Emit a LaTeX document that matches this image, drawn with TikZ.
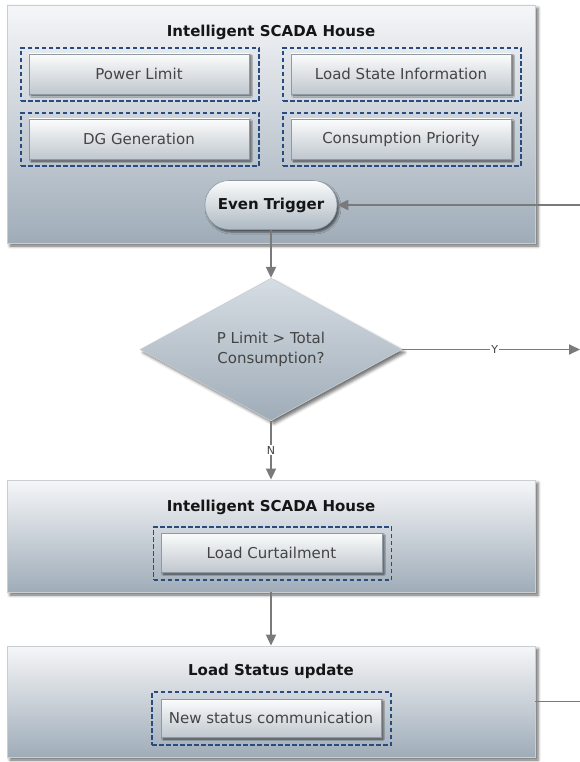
\documentclass[tikz,border=0pt]{standalone}
\usepackage{fontspec}
\setmainfont{DejaVu Sans}
\usetikzlibrary{shapes.geometric,shadows.blur,arrows.meta}

\definecolor{panelTop}{HTML}{F5F6F8}
\definecolor{panelBot}{HTML}{9FACB8}
\definecolor{panelEdge}{HTML}{C9CED3}
\definecolor{btnTop}{HTML}{FBFCFC}
\definecolor{btnBot}{HTML}{C0C7CE}
\definecolor{btnEdge}{HTML}{8F99A2}
\definecolor{decTop}{HTML}{D6DDE3}
\definecolor{decBot}{HTML}{9FACB8}
\definecolor{dashBlue}{HTML}{284B80}
\definecolor{wireGray}{HTML}{7A7A7A}
\definecolor{labelGray}{HTML}{444444}
\definecolor{titleInk}{HTML}{151515}

\begin{document}
\begin{tikzpicture}[x=1pt,y=-1pt,
  panel/.style={draw=panelEdge, line width=0.8pt, top color=panelTop,
    bottom color=panelBot, minimum width=528pt, inner sep=0pt,
    blur shadow={shadow xshift=3pt, shadow yshift=-3pt,
      shadow opacity=60, shadow blur radius=3pt}},
  title/.style={font=\fontsize{15}{18}\selectfont\bfseries, text=titleInk,
    inner sep=0pt},
  group/.style={draw=dashBlue, line width=1.7pt, dash pattern=on 4.5pt off 2.5pt,
    minimum width=238pt, minimum height=53pt, inner sep=0pt},
  btn/.style={draw=btnEdge, line width=0.6pt, top color=btnTop,
    bottom color=btnBot, minimum width=220pt, minimum height=40pt,
    inner sep=0pt, text=labelGray, font=\fontsize{15}{18}\selectfont,
    blur shadow={shadow xshift=2pt, shadow yshift=-2pt,
      shadow opacity=60, shadow blur radius=1.5pt}},
  trig/.style={draw=btnEdge, line width=0.6pt, rounded corners=24pt,
    top color=btnTop, bottom color=decBot!85!white,
    minimum width=132pt, minimum height=49pt, inner sep=0pt,
    text=titleInk, font=\fontsize{15}{18}\selectfont\bfseries,
    blur shadow={shadow xshift=2pt, shadow yshift=-2.5pt,
      shadow opacity=55, shadow blur radius=2pt}},
  dec/.style={diamond, draw=panelEdge, line width=0.6pt, top color=decTop,
    bottom color=decBot, minimum width=262pt, minimum height=135pt,
    inner sep=0pt, align=center, text=labelGray,
    font=\fontsize{15}{20}\selectfont,
    blur shadow={shadow xshift=3pt, shadow yshift=-3pt,
      shadow opacity=55, shadow blur radius=3pt}},
  conn/.style={draw=wireGray, line width=1.8pt,
    -{Triangle[length=11pt,width=10pt]}},
  link/.style={draw=wireGray, line width=1.8pt},
  tag/.style={fill=white, inner sep=1pt, text=labelGray,
    font=\fontsize{11}{12}\selectfont}
]
\useasboundingbox (0,0) rectangle (580,762);

% --- first panel: inputs of the SCADA house
\node[panel, minimum height=238pt] (house) at (271,124) {};
\node[title] (houseT) at (271,32) {Intelligent SCADA House};
\node[group] (gPL) at (140,74.5) {};
\node[btn] (pl) at (139,74) {Power Limit};
\node[group] (gLS) at (402,74.5) {};
\node[btn] (ls) at (401,74) {Load State Information};
\node[group] (gDG) at (140,139.5) {};
\node[btn] (dg) at (139,139) {DG Generation};
\node[group] (gCP) at (402,139.5) {};
\node[btn] (cp) at (401,139) {Consumption Priority};
\node[trig] (trig) at (271,205) {Even Trigger};

% --- decision
\node[dec] (dec) at (271,349.5) {P Limit > Total\\Consumption?};

% --- second panel: curtailment
\node[panel, minimum height=112pt] (res) at (271,536) {};
\node[title] (resT) at (271,507) {Intelligent SCADA House};
\node[group] (gLC) at (272.5,553.5) {};
\node[btn, minimum width=221pt, minimum height=39pt] (lc) at (271.5,552.5) {Load Curtailment};

% --- third panel: status update
\node[panel, minimum height=111pt] (upd) at (271,701.5) {};
\node[title] (updT) at (271,671) {Load Status update};
\node[group, minimum width=239pt] (gNS) at (271.5,718.5) {};
\node[btn, minimum height=38pt] (ns) at (271,718) {New status communication};

% --- connectors
\coordinate (inR) at (580,205);
\coordinate (outY) at (580,349.5);
\coordinate (outS) at (580,701.5);
\draw[conn] (inR) -- (trig.east);
\draw[conn] (trig.south) -- (dec.north);
\draw[conn] (dec.east) -- node[tag, pos=0.52] {Y} (outY);
\draw[conn] (dec.south) -- node[tag] {N} (res.north);
\draw[conn] (res.south) -- (upd.north);
\draw[link] (upd.east) -- (outS);
\end{tikzpicture}
\end{document}
